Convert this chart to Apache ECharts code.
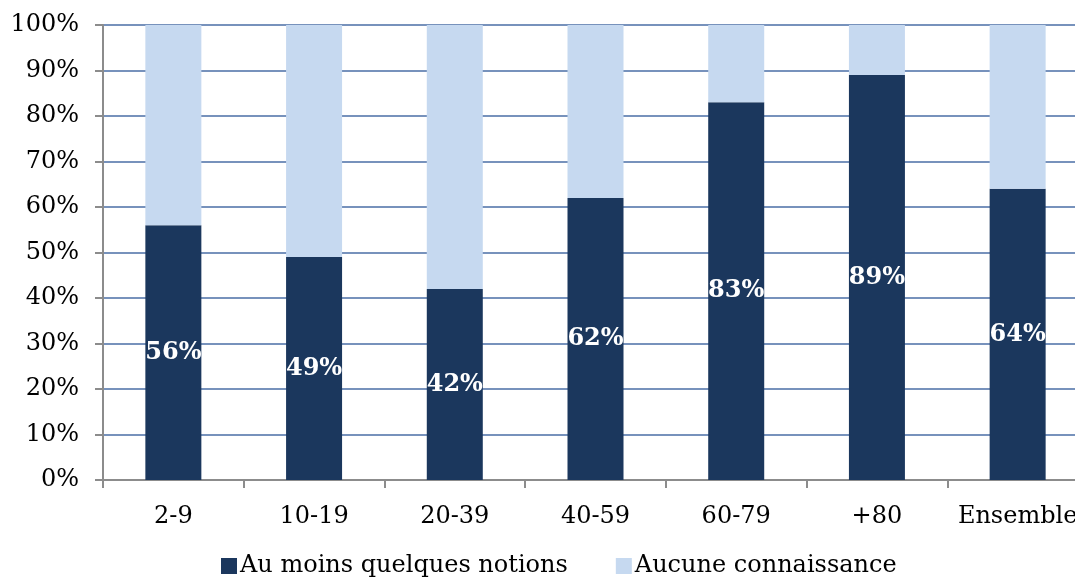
<!DOCTYPE html>
<html>
<head>
<meta charset="utf-8">
<script src="https://cdn.jsdelivr.net/npm/echarts@6/dist/echarts.min.js"></script>
<style>
  html, body { margin: 0; padding: 0; background: #fff; overflow: hidden; }
  #chart { width: 1090px; height: 579px; }
</style>
</head>
<body>
<div id="chart"></div>
<script>
// Age groups and share of people with at least some notions (%)
const categories = ['2-9', '10-19', '20-39', '40-59', '60-79', '+80', 'Ensemble'];
const auMoins = [56, 49, 42, 62, 83, 89, 64];
const aucune = [44, 51, 58, 38, 17, 11, 36];
const seriesNames = ['Au moins quelques notions', 'Aucune connaissance'];

const FONT = 'DejaVu Serif';

// the plot runs slightly past the visible right edge, so the canvas is wider than the window
const chart = echarts.init(document.getElementById('chart'), null, { renderer: 'canvas' });
chart.setOption({
  animation: false,
  backgroundColor: '#ffffff',
  textStyle: { fontFamily: FONT },
  grid: { left: 103, top: 25, bottom: 99, right: 2, containLabel: false },
  legend: {
    top: 554,
    left: 221,
    padding: 0,
    itemWidth: 16,
    itemHeight: 16,
    itemGap: 48,
    icon: 'rect',
    textStyle: { fontFamily: FONT, fontSize: 24, color: '#000', padding: [0, 0, 0, -2] },
    data: seriesNames
  },
  xAxis: {
    type: 'category',
    data: categories,
    axisLine: { lineStyle: { color: '#8c8c8c', width: 2 } },
    axisTick: { show: true, length: 8, interval: 0, lineStyle: { color: '#8c8c8c', width: 2 } },
    axisLabel: { fontFamily: FONT, fontSize: 24, color: '#000', margin: 25, interval: 0 }
  },
  yAxis: {
    type: 'value',
    min: 0,
    max: 100,
    interval: 10,
    axisLine: { show: true, lineStyle: { color: '#8c8c8c', width: 2 } },
    axisTick: { show: true, length: 8, lineStyle: { color: '#8c8c8c', width: 2 } },
    axisLabel: { fontFamily: FONT, fontSize: 24, color: '#000', margin: 24, formatter: '{value}%' },
    splitLine: { show: true, lineStyle: { color: '#4a6ea6', width: 1.5 } }
  },
  series: [
    {
      name: seriesNames[0],
      type: 'bar',
      stack: 'total',
      barWidth: 56,
      data: auMoins,
      itemStyle: { color: '#1b375d' },
      label: {
        show: true,
        position: 'inside',
        formatter: '{c}%',
        fontFamily: FONT,
        fontWeight: 'bold',
        fontSize: 24,
        color: '#ffffff'
      }
    },
    {
      name: seriesNames[1],
      type: 'bar',
      stack: 'total',
      barWidth: 56,
      data: aucune,
      itemStyle: { color: '#c6d9f0' }
    }
  ]
});
</script>
</body>
</html>
